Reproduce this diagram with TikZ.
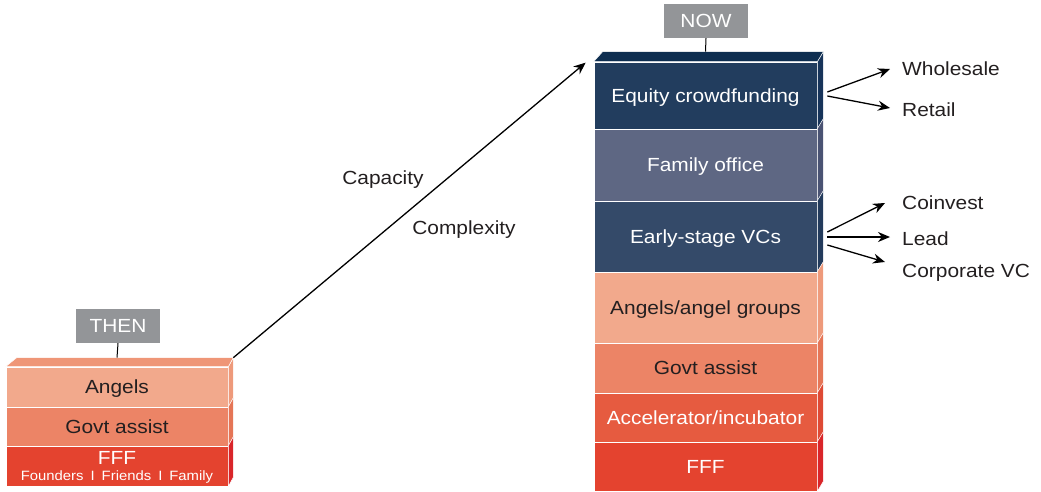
\documentclass[tikz,border=0pt]{standalone}
\usepackage{fontspec}
\setmainfont{Liberation Sans}[FakeStretch=1.1]
\usetikzlibrary{arrows.meta}
\definecolor{boxgray}{HTML}{939598}
\definecolor{ink}{HTML}{231F20}
\definecolor{navyA}{HTML}{223D5E}
\definecolor{navyAtop}{HTML}{0E2E50}
\definecolor{navyAside}{HTML}{17345A}
\definecolor{slate}{HTML}{5E6783}
\definecolor{slateside}{HTML}{4A5373}
\definecolor{navyB}{HTML}{344A69}
\definecolor{navyBside}{HTML}{233B5C}
\definecolor{salmonA}{HTML}{F2A98C}
\definecolor{salmonAside}{HTML}{EE9A7B}
\definecolor{salmonAtop}{HTML}{EF9677}
\definecolor{salmonB}{HTML}{EC8466}
\definecolor{salmonBside}{HTML}{E57556}
\definecolor{orangeC}{HTML}{E65B40}
\definecolor{orangeCside}{HTML}{DE4A35}
\definecolor{redD}{HTML}{E4432F}
\definecolor{redDside}{HTML}{D9262A}
\begin{document}
\begin{tikzpicture}[x=1pt,y=-1pt,
  big/.style={font=\fontsize{19}{22}\selectfont, text height=13.6pt, text depth=0pt},
  txt/.style={big, text=ink, inner sep=2pt},
  tag/.style={big, fill=boxgray, text=white, minimum width=84pt, minimum height=34pt, inner sep=0pt},
  slab/.style={draw=white, line width=0.7pt, inner sep=0pt},
  nowslab/.style={slab, big, minimum width=223pt},
  thenslab/.style={slab, big, minimum width=222pt},
  side/.style={draw=white, line width=0.5pt},
  arr/.style={draw=black, line width=1.3pt, -{Stealth[length=12pt,width=10pt]}},
  stem/.style={draw=black, line width=1pt}
]
\useasboundingbox (0,0) rectangle (1041,492);

% ---------- NOW stack ----------
\node[nowslab, fill=navyA, text=white, minimum height=67pt] (eq) at (705.5,95.5) {Equity crowdfunding};
\node[nowslab, fill=slate, text=white, minimum height=72pt] (fo) at (705.5,165) {Family office};
\node[nowslab, fill=navyB, text=white, minimum height=71pt] (vc) at (705.5,236.5) {Early-stage VCs};
\node[nowslab, fill=salmonA, text=ink, minimum height=71pt] (ag) at (705.5,307.5) {Angels/angel groups};
\node[nowslab, fill=salmonB, text=ink, minimum height=50pt] (gv) at (705.5,368) {Govt assist};
\node[nowslab, fill=orangeC, text=white, minimum height=49pt] (ac) at (705.5,417.5) {Accelerator/incubator};
\node[nowslab, fill=redD, text=white, minimum height=49pt] (ff) at (705.5,466.5) {FFF};

\foreach \n/\c in {eq/navyAside, fo/slateside, vc/navyBside, ag/salmonAside, gv/salmonBside, ac/orangeCside, ff/redDside}{
  \filldraw[side, fill=\c] (\n.north east) -- ++(6,-10) -- ([shift={(6,-10)}]\n.south east) -- (\n.south east) -- cycle;
}
\filldraw[side, fill=navyAtop] (eq.north west) -- ++(9,-10) -- ([shift={(6,-10)}]eq.north east) -- (eq.north east) -- cycle;
\coordinate (nowtop) at ([shift={(0,-10)}]eq.north);

\node[tag] (now) at (706,21) {NOW};
\draw[stem] (now.south) -- (nowtop);

% ---------- THEN stack ----------
\node[thenslab, fill=salmonA, text=ink, minimum height=40pt] (ta) at (117,387) {Angels};
\node[thenslab, fill=salmonB, text=ink, minimum height=39pt] (tg) at (117,426.5) {Govt assist};
\node[slab, minimum width=222pt, fill=redD, minimum height=40pt] (tf) at (117,466) {};
\node[big, text=white, inner sep=0pt] (tfa) at (117,458) {FFF};
\node[text=white, inner sep=0pt, font=\fontsize{13.5}{15}\selectfont] (tfb) at (117,477) {Founders\hspace{7pt}I\hspace{7pt}Friends\hspace{7pt}I\hspace{7pt}Family};

\foreach \n/\c in {ta/salmonAside, tg/salmonBside, tf/redDside}{
  \filldraw[side, fill=\c] (\n.north east) -- ++(5,-9) -- ([shift={(5,-9)}]\n.south east) -- (\n.south east) -- cycle;
}
\filldraw[side, fill=salmonAtop] (ta.north west) -- ++(11,-9) -- ([shift={(5,-9)}]ta.north east) -- (ta.north east) -- cycle;
\coordinate (thentop) at ([shift={(0,-9)}]ta.north);
\coordinate (thencorner) at ([shift={(5,-9)}]ta.north east);

\node[tag] (then) at (118,326) {THEN};
\draw[stem] (then.south) -- (thentop);

% ---------- growth arrow ----------
\coordinate (nowcorner) at ([shift={(-8,1)}]eq.north west);
\draw[arr] (thencorner) -- (nowcorner);
\node[txt] (cap) at (383,178) {Capacity};
\node[txt] (cpx) at (464,228) {Complexity};

% ---------- right labels ----------
\node[txt, anchor=west] (wh) at (900,69) {Wholesale};
\node[txt, anchor=west] (rt) at (900,110) {Retail};
\node[txt, anchor=west] (co) at (900,203) {Coinvest};
\node[txt, anchor=west] (ld) at (900,239) {Lead};
\node[txt, anchor=west] (cv) at (900,271) {Corporate VC};

\draw[arr] ([shift={(10,-3.5)}]eq.east) -- ([xshift=-10]wh.west);
\draw[arr] ([shift={(10,0.5)}]eq.east) -- ([shift={(-10,-2)}]rt.west);
\draw[arr] ([shift={(10,-4.5)}]vc.east) -- ([xshift=-15]co.west);
\draw[arr] ([shift={(10,0.5)}]vc.east) -- ([shift={(-10,-2)}]ld.west);
\draw[arr] ([shift={(10,8.5)}]vc.east) -- ([shift={(-15,-9)}]cv.west);
\end{tikzpicture}
\end{document}
